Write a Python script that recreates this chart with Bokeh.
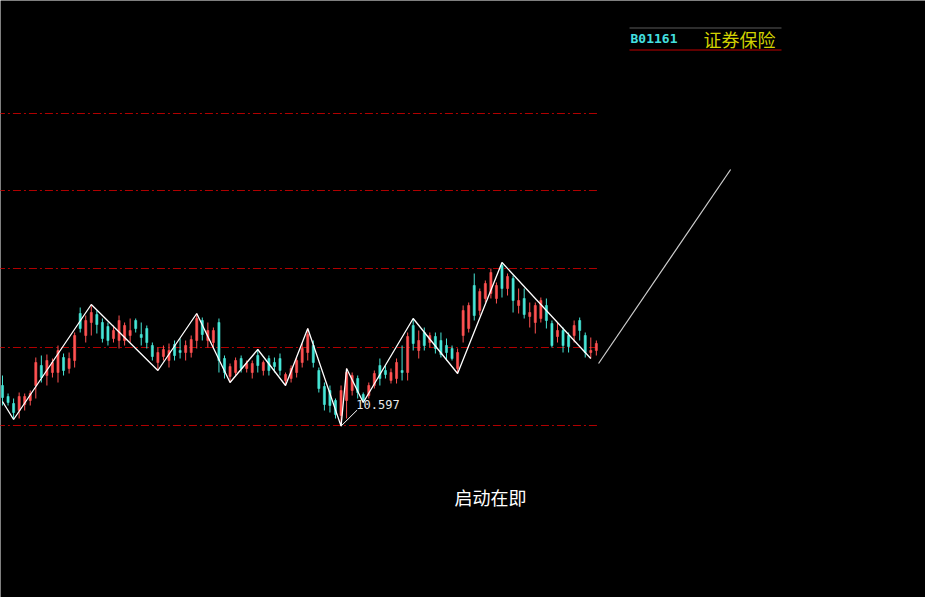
from bokeh.plotting import figure
from bokeh.models import Range1d, Label, BoxAnnotation, ColumnDataSource
from bokeh.embed import file_html
from bokeh.resources import INLINE

# ---- data (prices) ----
opens = [10.80, 10.745, 10.71, 10.675, 10.705, 10.725, 10.80, 10.90, 10.85, 10.865,
         10.865, 10.94, 10.885, 10.925, 11.16, 11.05, 11.115, 11.155, 11.115, 11.095,
         11.035, 11.025, 11.025, 11.05, 11.125, 11.055, 11.085, 11.00, 10.915, 10.945,
         10.925, 11.005, 10.975, 10.965, 10.965, 11.025, 11.125, 11.025, 11.015, 11.115,
         10.935, 10.845, 10.865, 10.935, 10.885, 10.865, 10.95, 10.875, 10.935, 10.915,
         10.935, 10.825, 10.835, 10.865, 10.915, 10.965, 11.00, 10.875, 10.795, 10.775,
         10.725, 10.65, 10.725, 10.775, 10.835, 10.755, 10.75, 10.80, 10.90, 10.875,
         10.825, 10.835, 10.875, 10.865, 11.10, 10.975, 11.065, 11.015, 11.045, 11.025,
         11.00, 10.985, 10.885, 11.05, 11.085, 11.30, 11.175, 11.235, 11.26, 11.235,
         11.40, 11.285, 11.335, 11.20, 11.235, 11.145, 11.115, 11.135, 11.20, 11.11,
         11.045, 11.075, 11.05, 11.05, 11.125, 11.05, 10.965, 10.975]
highs = [10.85, 10.76, 10.735, 10.765, 10.76, 10.775, 10.94, 10.95, 10.955, 10.935,
         11.00, 10.96, 10.965, 11.065, 11.19, 11.15, 11.205, 11.175, 11.135, 11.115,
         11.10, 11.15, 11.115, 11.135, 11.135, 11.115, 11.10, 11.015, 10.99, 11.00,
         11.01, 11.025, 11.035, 11.025, 11.05, 11.16, 11.14, 11.115, 11.09, 11.135,
         10.95, 10.91, 10.94, 10.95, 10.925, 10.925, 10.98, 10.925, 10.95, 10.94,
         10.96, 10.865, 10.90, 10.94, 11.01, 11.085, 11.025, 10.89, 10.815, 10.80,
         10.735, 10.80, 10.885, 10.865, 10.85, 10.765, 10.815, 10.875, 10.935, 10.90,
         10.885, 10.935, 11.00, 11.065, 11.135, 11.075, 11.09, 11.065, 11.065, 11.065,
         11.035, 11.00, 10.985, 11.20, 11.215, 11.36, 11.285, 11.325, 11.385, 11.315,
         11.415, 11.36, 11.35, 11.285, 11.285, 11.215, 11.215, 11.24, 11.235, 11.125,
         11.115, 11.09, 11.065, 11.125, 11.14, 11.065, 11.04, 11.025]
lows = [10.70, 10.70, 10.63, 10.635, 10.675, 10.70, 10.735, 10.815, 10.80, 10.84,
        10.815, 10.85, 10.86, 10.89, 11.065, 11.015, 11.05, 11.06, 11.015, 11.00,
        11.015, 10.985, 11.00, 11.015, 11.065, 11.00, 10.985, 10.925, 10.875, 10.925,
        10.89, 10.925, 10.935, 10.925, 10.94, 10.985, 11.025, 10.99, 10.985, 10.865,
        10.835, 10.815, 10.85, 10.865, 10.865, 10.835, 10.865, 10.85, 10.85, 10.865,
        10.85, 10.80, 10.815, 10.84, 10.89, 10.925, 10.89, 10.765, 10.675, 10.665,
        10.635, 10.597, 10.635, 10.75, 10.735, 10.715, 10.735, 10.785, 10.80, 10.835,
        10.81, 10.81, 10.825, 10.825, 10.975, 10.935, 10.975, 10.99, 10.96, 10.94,
        10.925, 10.925, 10.86, 11.015, 11.065, 11.125, 11.15, 11.215, 11.235, 11.21,
        11.24, 11.25, 11.165, 11.16, 11.135, 11.09, 11.06, 11.115, 11.085, 10.99,
        11.015, 10.965, 10.965, 11.015, 11.025, 10.94, 10.935, 10.95]
closes = [10.74, 10.715, 10.665, 10.745, 10.745, 10.76, 10.915, 10.84, 10.925, 10.915,
          10.975, 10.875, 10.935, 11.05, 11.085, 11.125, 11.165, 11.105, 11.035, 11.025,
          11.075, 11.125, 11.10, 11.075, 11.085, 11.04, 11.015, 10.945, 10.965, 10.98,
          10.975, 10.95, 10.965, 11.00, 11.03, 11.135, 11.055, 11.075, 11.075, 10.925,
          10.865, 10.895, 10.925, 10.885, 10.91, 10.91, 10.90, 10.915, 10.875, 10.895,
          10.875, 10.855, 10.885, 10.925, 10.985, 11.055, 10.915, 10.785, 10.705, 10.70,
          10.655, 10.775, 10.865, 10.85, 10.765, 10.725, 10.80, 10.86, 10.835, 10.855,
          10.865, 10.915, 10.865, 11.045, 11.01, 11.025, 11.00, 11.05, 10.985, 10.955,
          10.965, 10.935, 10.965, 11.175, 11.20, 11.15, 11.27, 11.31, 11.365, 11.30,
          11.285, 11.345, 11.225, 11.225, 11.155, 11.165, 11.20, 11.225, 11.125, 11.00,
          11.075, 11.00, 10.995, 11.10, 11.075, 10.965, 10.975, 11.01]

zigzag_idx = [0, 2, 16, 28, 35, 41, 46, 51, 55, 61, 62, 65, 74, 82, 90, 106]
zigzag_px = [10.72, 10.63, 11.205, 10.875, 11.16, 10.815, 10.98, 10.80, 11.085,
             10.597, 10.885, 10.715, 11.135, 10.86, 11.415, 10.935]

proj_idx = [107.4, 131.2]
proj_px = [10.91, 11.88]

levels = [12.16, 11.775, 11.385, 10.99, 10.60]

low_label = "10.597"
low_label_idx = 61
low_label_px = 10.597
code_text = "B01161"
name_text = "证券保险"
note_text = "启动在即"

RED = "#ff5252"
CYAN = "#46e6d6"

n = len(opens)
idx = list(range(n))
colors = [RED if c >= o else CYAN for o, c in zip(opens, closes)]
btop = [max(o, c) for o, c in zip(opens, closes)]
bbot = [min(o, c) for o, c in zip(opens, closes)]
src = ColumnDataSource(dict(x=idx, h=highs, l=lows, t=btop, b=bbot, c=colors))

W, H = 925, 597
p = figure(width=W, height=H, output_backend="svg", toolbar_location=None,
           x_range=Range1d(-0.36, 166.31), y_range=Range1d(9.74, 12.725),
           background_fill_color="black", border_fill_color="black",
           outline_line_color=None, min_border=0)
p.axis.visible = False
p.grid.visible = False

# dashed level lines
p.segment(x0=[-1] * len(levels), x1=[107.3] * len(levels), y0=levels, y1=levels,
          line_color="#b00000", line_width=1, line_dash="8 3 2 3")

# candles
p.segment(x0="x", x1="x", y0="l", y1="h", line_color="c", line_width=1, source=src)
p.vbar(x="x", width=0.38, top="t", bottom="b", fill_color="c", line_color="c",
       line_width=0.6, source=src)

# zigzag
p.line(zigzag_idx, zigzag_px, line_color="white", line_width=1.3)

# projection line
p.line(proj_idx, proj_px, line_color="#d0d0d0", line_width=1.2)

# low label with leader
p.line([low_label_idx, low_label_idx + 2.9], [low_label_px, low_label_px + 0.08],
       line_color="white", line_width=1)
p.add_layout(Label(x=low_label_idx + 2.75, y=low_label_px + 0.108, text=low_label,
                   text_color="#e8e8e8", text_font="DejaVu Sans Mono",
                   text_font_size="12px", text_baseline="middle", text_align="left"))

# header box (screen units: x = page_x, y = H - page_y)
p.add_layout(BoxAnnotation(left=629, right=781, bottom=569, top=570,
                           left_units="screen", right_units="screen",
                           bottom_units="screen", top_units="screen",
                           fill_color="#5a5a5a", fill_alpha=1, line_color=None))
p.add_layout(BoxAnnotation(left=629, right=781, bottom=547, top=548,
                           left_units="screen", right_units="screen",
                           bottom_units="screen", top_units="screen",
                           fill_color="#c00000", fill_alpha=1, line_color=None))
p.add_layout(Label(x=630, y=559, x_units="screen", y_units="screen", text=code_text,
                   text_color="#44e0e0", text_font="DejaVu Sans Mono",
                   text_font_style="bold", text_font_size="13px",
                   text_baseline="middle", text_align="left"))
p.add_layout(Label(x=703, y=559, x_units="screen", y_units="screen", text=name_text,
                   text_color="#d2d200", text_font="Noto Sans CJK SC",
                   text_font_size="18px", text_baseline="middle", text_align="left"))

# note
p.add_layout(Label(x=490, y=101, x_units="screen", y_units="screen", text=note_text,
                   text_color="white", text_font="Noto Sans CJK SC",
                   text_font_size="18px", text_baseline="middle", text_align="center"))

html = file_html(p, INLINE)
open("out.html", "w").write(html)
